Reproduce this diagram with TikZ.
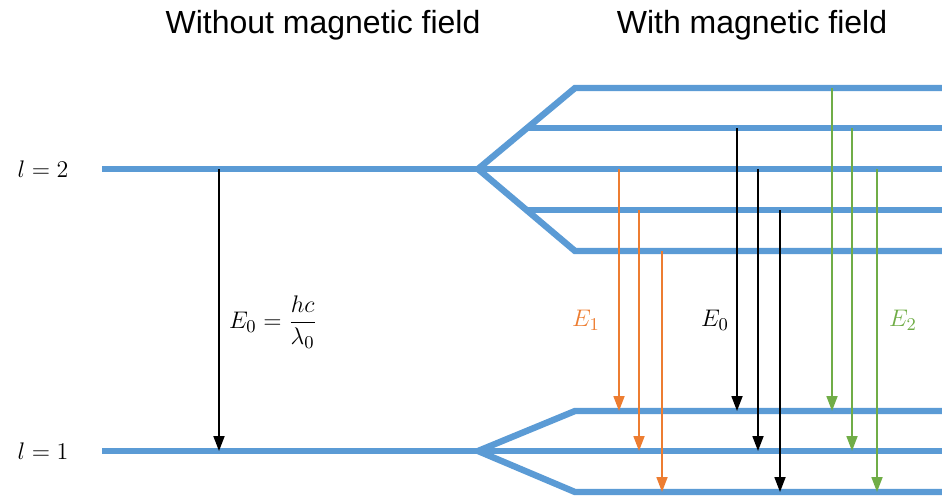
\documentclass[tikz,border=0pt]{standalone}
\usepackage{amsmath}
\usepackage{fontspec}
\setmainfont{Liberation Sans}
\definecolor{LevelBlue}{HTML}{5B9BD5}
\definecolor{LineOrange}{HTML}{ED7D31}
\definecolor{LineGreen}{HTML}{70AD47}
\usetikzlibrary{arrows.meta}

\begin{document}
\begin{tikzpicture}[x=0.5pt, y=-0.5pt,
  level/.style={line width=3.2pt, color=LevelBlue},
  trans/.style={-{Triangle[width=5.5pt,length=7.5pt]}, line width=0.9pt},
  title/.style={font=\fontsize{16}{19}\selectfont},
  lab/.style={font=\fontsize{13}{15}\selectfont}]
\useasboundingbox (0,0) rectangle (942,495);
% Fork points and sublevels
\coordinate (fork2) at (478,169);
\coordinate (fork1) at (478,451);
\coordinate (up2) at (942,88);
\coordinate (up1) at (942,128);
\coordinate (u0) at (942,169);
\coordinate (um1) at (942,210);
\coordinate (um2) at (942,251);
\coordinate (lp1) at (942,411);
\coordinate (l0) at (942,451);
\coordinate (lm1) at (942,492);
% Upper level, split in five
\draw[level] (102,169) -- (fork2) -- (u0);
\draw[level] (fork2) -- (575,88) -- (up2);
\draw[level] (fork2) -- (575,251) -- (um2);
\draw[level] (527,128) -- (up1);
\draw[level] (527,210) -- (um1);
% Lower level, split in three
\draw[level] (102,451) -- (fork1) -- (l0);
\draw[level] (fork1) -- (575,411) -- (lp1);
\draw[level] (fork1) -- (575,492) -- (lm1);
% Transitions
\draw[trans] (219,0 |- fork2) -- (219,0 |- fork1);
\foreach \x/\a/\b/\c in {619/u0/lp1/LineOrange, 639/um1/l0/LineOrange,
    662/um2/lm1/LineOrange, 737/up1/lp1/black, 758/u0/l0/black,
    780/um1/lm1/black, 832/up2/lp1/LineGreen, 852/up1/l0/LineGreen,
    877/u0/lm1/LineGreen}
  \draw[trans, color=\c] (\x,0 |- \a) -- (\x,0 |- \b);
% Labels
\node[title] (nofield) at (323,25) {Without magnetic field};
\node[title] (field) at (752,25) {With magnetic field};
\node[lab] (lvl2) at (43,169) {$l=2$};
\node[lab] (lvl1) at (43,451) {$l=1$};
\node[lab, anchor=west] (e0left) at (222,322) {$E_0=\dfrac{hc}{\lambda_0}$};
\node[lab, color=LineOrange] (e1) at (586,320) {$E_1$};
\node[lab] (e0) at (715,320) {$E_0$};
\node[lab, color=LineGreen] (e2) at (903,320) {$E_2$};
\end{tikzpicture}
\end{document}
